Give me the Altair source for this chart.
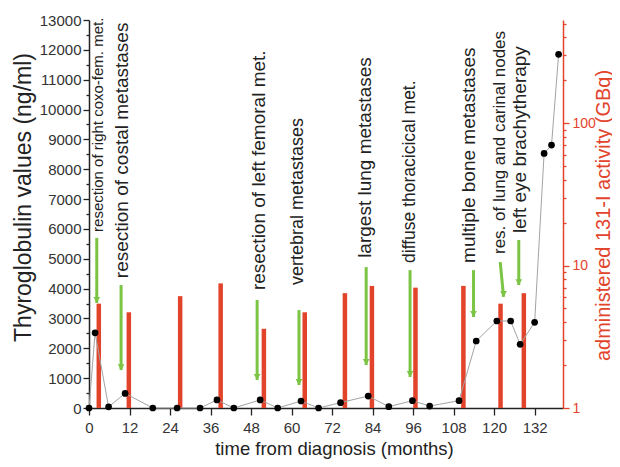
import altair as alt
import pandas as pd

FONT = "Liberation Sans"
RED = "#e2432b"
GREEN = "#7cc444"
TXT = "#222222"

# Thyroglobulin values (ng/ml) over time (months)
tg_months = [0, 1.8, 5.8, 10.7, 18.9, 26.1, 32.9, 37.9, 42.9, 50.7, 55.9, 62.8, 68.0,
             74.5, 82.7, 88.8, 95.8, 100.9, 109.6, 114.7, 120.8, 124.9, 127.7, 132.0,
             134.8, 137.0, 139.1]
tg_values = [0, 2520, 40, 490, 0, 0, 0, 270, 0, 270, 0, 235, 0,
             180, 400, 45, 245, 65, 245, 2245, 2915, 2915, 2135, 2870,
             8530, 8810, 11850]

# administered 131-I activity (GBq)
bar_months = [2.9, 11.8, 27.0, 39.0, 51.8, 63.9, 75.8, 83.8, 96.7, 110.9, 121.9, 128.8]
bar_gbq = [5.4, 4.7, 6.1, 7.5, 3.6, 4.7, 6.4, 7.2, 7.0, 7.2, 5.4, 6.4]

# clinical events
event_labels = ["resection of right coxo-fem. met.", "resection of costal metastases",
                "resection of left femoral met.", "vertebral metastases",
                "largest lung metastases", "diffuse thoracicical met.",
                "multiple bone metastases", "res. of lung and carinal nodes",
                "left eye brachytherapy"]
event_text_month = [2.8, 9.7, 50.5, 61.8, 81.7, 95.0, 112.7, 121.6, 127.6]
event_text_tg = [5900, 4350, 3950, 4120, 5030, 4860, 4860, 5160, 5860]
event_font = [15, 19, 19, 18, 19, 17.5, 19, 17, 19]
arrow_month_start = [2.3, 9.5, 49.8, 62.2, 82.1, 95.1, 113.9, 121.8, 127.3]
arrow_month_end = [2.3, 9.5, 49.8, 62.2, 82.1, 95.1, 113.9, 122.8, 127.3]
arrow_tg_start = [5700, 4120, 3620, 3280, 4720, 4620, 4620, 4890, 5630]
arrow_tg_end = [3520, 1270, 940, 770, 1440, 1040, 3050, 3720, 4120]

x_ticks = list(range(0, 133, 12))
left_ticks = list(range(0, 13001, 500))
right_ticks = [1, 2, 3, 4, 5, 6, 7, 8, 9, 10, 20, 30, 40, 50, 60, 70, 80, 90,
               100, 200, 300, 400, 500]

tg_df = pd.DataFrame({"month": tg_months, "tg": tg_values})
bar_df = pd.DataFrame({"month": bar_months, "gbq": bar_gbq})
ev_df = pd.DataFrame({
    "label": event_labels, "tm": event_text_month, "tt": event_text_tg,
    "fs": event_font, "am": arrow_month_start, "am2": arrow_month_end,
    "at": arrow_tg_start, "at2": arrow_tg_end,
})

x_scale = alt.Scale(domain=[0, 140.4], nice=False, zero=False)
yl_scale = alt.Scale(domain=[0, 13000], nice=False)
yr_scale = alt.Scale(type="log", domain=[1, 530], nice=False)

x_axis = alt.Axis(
    values=x_ticks, title="time from diagnosis (months)", labelFlush=False,
    tickSize=7, labelPadding=5, titleX=245, titleY=40, titleAlign="center",
    titleBaseline="middle", titleFontSize=18.5, format="d",
)
left_axis = alt.Axis(
    orient="left", values=left_ticks, format="d",
    labelExpr="datum.value % 1000 === 0 ? datum.label : ''",
    tickSize={"condition": {"test": "datum.value % 1000 === 0", "value": 6}, "value": 3},
    labelPadding=2, title="Thyroglobulin values (ng/ml)", titleAngle=270,
    titleX=-66, titleY=177, titleAlign="center", titleBaseline="middle",
    titleFontSize=23,
)
right_axis = alt.Axis(
    orient="right", values=right_ticks,
    labelExpr="(datum.value == 1 || datum.value == 10 || datum.value == 100) ? format(datum.value, 'd') : ''",
    tickSize={"condition": {"test": "datum.value == 1 || datum.value == 10 || datum.value == 100", "value": 6}, "value": 3},
    labelPadding=3, labelOverlap=False, labelFlush=False, labelFontSize=14,
    title="administered 131-I activity (GBq)", titleAngle=270,
    titleX=40, titleY=195, titleAlign="center", titleBaseline="middle",
    titleFontSize=20, titleColor=RED, labelColor=RED, domainColor=RED, tickColor=RED,
)

def X(field):
    return alt.X(f"{field}:Q", scale=x_scale, axis=x_axis)

def YL(field):
    return alt.Y(f"{field}:Q", scale=yl_scale, axis=left_axis)

bars = alt.Chart(bar_df).mark_rule(strokeWidth=4.5, color=RED).encode(
    x=X("month"),
    y=alt.Y("gbq:Q", scale=yr_scale, axis=right_axis),
    y2=alt.datum(1),
)

line = alt.Chart(tg_df).mark_line(color="#a3a3a3", strokeWidth=1).encode(
    x=X("month"), y=YL("tg"))
points = alt.Chart(tg_df).mark_point(filled=True, color="black", size=45, opacity=1).encode(
    x=X("month"), y=YL("tg"))
arrows = alt.Chart(ev_df).mark_rule(color=GREEN, strokeWidth=3).encode(
    x=X("am"), y=YL("at"), x2="am2:Q", y2="at2:Q")
heads = alt.Chart(ev_df).mark_point(shape="triangle-down", filled=True, color=GREEN,
                                     size=45, opacity=1, yOffset=-3).encode(
    x=X("am2"), y=YL("at2"))
texts = alt.Chart(ev_df).mark_text(angle=270, align="left", baseline="middle",
                                   font=FONT, color=TXT).encode(
    x=X("tm"), y=YL("tt"), text="label:N", size=alt.Size("fs:Q", scale=None))

left_group = alt.layer(line, points, arrows, heads, texts)

chart = alt.layer(bars, left_group).resolve_scale(y="independent").properties(
    width=474, height=388, autosize="none",
    padding={"left": 81, "top": 12, "right": 49, "bottom": 51},
).configure_view(stroke=None).configure_axis(
    grid=False, labelFont=FONT, titleFont=FONT, labelFontSize=15,
    labelColor="#333333", titleColor=TXT, titleFontWeight="normal",
    domainColor="#222222", domainWidth=1.5, tickColor="#222222", tickWidth=1.3,
)

chart.save("out.html", embed_options={"renderer": "svg", "actions": False})
